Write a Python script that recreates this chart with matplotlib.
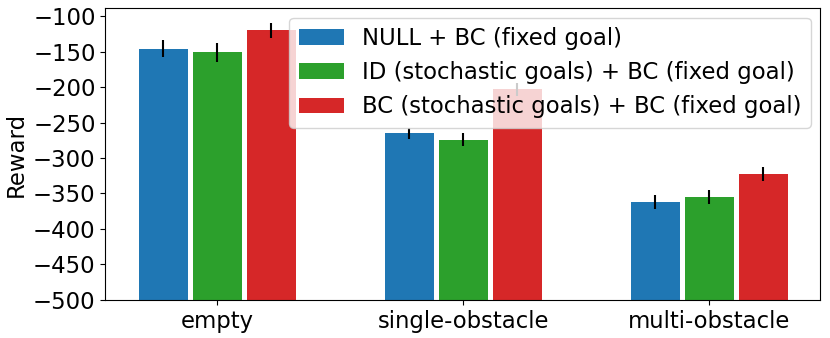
import matplotlib

matplotlib.use("Agg")
import matplotlib.pyplot as plt  # noqa: E402
import numpy as np  # noqa: E402

categories = ["empty", "single-obstacle", "multi-obstacle"]
series = [
    "NULL + BC (fixed goal)",
    "ID (stochastic goals) + BC (fixed goal)",
    "BC (stochastic goals) + BC (fixed goal)",
]
means = [
    [-146, -265, -362],
    [-151, -274, -355],
    [-120, -203, -322],
]
errors = [
    [12, 8, 10],
    [13, 9, 10],
    [11, 9, 10],
]
colors = ["#1f77b4", "#2ca02c", "#d62728"]

plt.rcParams["font.size"] = 16.4

fig, ax = plt.subplots(figsize=(8.3, 3.38), dpi=100)
x = np.arange(len(categories))
for i, (name, m, e, c) in enumerate(zip(series, means, errors, colors)):
    ax.bar(x + (i - 1) * 0.22, np.array(m) + 500, bottom=-500, width=0.2,
           yerr=e, color=c, label=name, ecolor="black", error_kw={"elinewidth": 1.5})

ax.set_ylim(-500, -89)
ax.set_yticks(np.arange(-500, -99, 50))
ax.set_xlim(-0.455, 2.45)
ax.set_xticks(x)
ax.set_xticklabels(categories)
ax.set_ylabel("Reward")
ax.legend(loc="upper right", fontsize=16.4, borderaxespad=0.4)
fig.subplots_adjust(left=0.127, right=0.988, top=0.975, bottom=0.113)
fig.savefig("out.png")
